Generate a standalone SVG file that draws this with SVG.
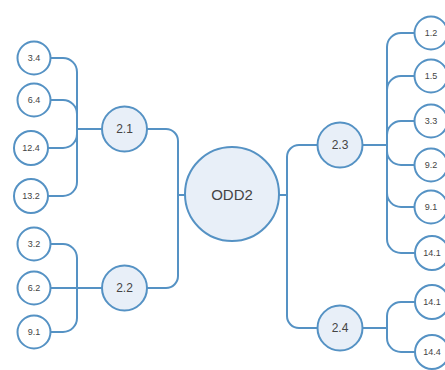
<svg xmlns="http://www.w3.org/2000/svg" width="445" height="370" viewBox="0 0 445 370">
<style>
.c{fill:none;stroke:#5592c4;stroke-width:2}
.leaf{fill:#ffffff;stroke:#5592c4;stroke-width:2}
.mid{fill:#e8eff8;stroke:#5592c4;stroke-width:2}
text{font-family:"Liberation Sans",Arial,sans-serif;fill:#444;text-anchor:middle;dominant-baseline:central}
.t1{font-size:9px}
.t2{font-size:12px}
.t3{font-size:15px}
</style>
<rect width="445" height="370" fill="#ffffff"/>
<g id="connectors">
<path class="c" d="M50 58 H63 A14 14 0 0 1 77 72 V129"/>
<path class="c" d="M50 100 H63 A14 14 0 0 1 77 114 V129"/>
<path class="c" d="M48 148 H63 A14 14 0 0 0 77 134 V129"/>
<path class="c" d="M48 196 H63 A14 14 0 0 0 77 182 V129"/>
<path class="c" d="M77 129 H102"/>
<path class="c" d="M50 244 H63 A14 14 0 0 1 77 258 V288"/>
<path class="c" d="M50 288 H102"/>
<path class="c" d="M50 332 H63 A14 14 0 0 0 77 318 V288"/>
<path class="c" d="M147 129 H166 A12 12 0 0 1 178 141 V276 A12 12 0 0 1 166 288 H147"/>
<path class="c" d="M178 195 H185"/>
<path class="c" d="M279 195 H287"/>
<path class="c" d="M318 145 H299 A12 12 0 0 0 287 157 V316 A12 12 0 0 0 299 328 H318"/>
<path class="c" d="M415 33 H401 A14 14 0 0 0 387 47 V145"/>
<path class="c" d="M415 76 H401 A14 14 0 0 0 387 90 V145"/>
<path class="c" d="M415 121 H401 A14 14 0 0 0 387 135 V145"/>
<path class="c" d="M415 165 H401 A14 14 0 0 1 387 151 V145"/>
<path class="c" d="M415 207 H401 A14 14 0 0 1 387 193 V145"/>
<path class="c" d="M415 253 H401 A14 14 0 0 1 387 239 V145"/>
<path class="c" d="M362 145 H387"/>
<path class="c" d="M415 302 H401 A14 14 0 0 0 387 316 V328"/>
<path class="c" d="M415 352 H401 A14 14 0 0 1 387 338 V328"/>
<path class="c" d="M362 328 H387"/>
</g>
<g id="odd2"><circle class="mid" cx="232" cy="194" r="47"/><text class="t3" x="232" y="194">ODD2</text></g>
<g id="n21"><circle class="mid" cx="124.5" cy="129" r="22.5"/><text class="t2" x="124.5" y="129">2.1</text></g>
<g id="n22"><circle class="mid" cx="124.5" cy="288" r="22.5"/><text class="t2" x="124.5" y="288">2.2</text></g>
<g id="n23"><circle class="mid" cx="340" cy="145" r="22.5"/><text class="t2" x="340" y="145">2.3</text></g>
<g id="n24"><circle class="mid" cx="340" cy="328" r="22.5"/><text class="t2" x="340" y="328">2.4</text></g>
<g id="l34"><circle class="leaf" cx="34" cy="58" r="16.5"/><text class="t1" x="34" y="58">3.4</text></g>
<g id="l64"><circle class="leaf" cx="34" cy="100" r="16.5"/><text class="t1" x="34" y="100">6.4</text></g>
<g id="l124"><circle class="leaf" cx="31" cy="148" r="17"/><text class="t1" x="31" y="148">12.4</text></g>
<g id="l132"><circle class="leaf" cx="31" cy="196" r="17"/><text class="t1" x="31" y="196">13.2</text></g>
<g id="l32"><circle class="leaf" cx="34" cy="244" r="16.5"/><text class="t1" x="34" y="244">3.2</text></g>
<g id="l62"><circle class="leaf" cx="34" cy="288" r="16.5"/><text class="t1" x="34" y="288">6.2</text></g>
<g id="l91a"><circle class="leaf" cx="34" cy="332" r="16.5"/><text class="t1" x="34" y="332">9.1</text></g>
<g id="l12"><circle class="leaf" cx="431" cy="33" r="16.5"/><text class="t1" x="431" y="33">1.2</text></g>
<g id="l15"><circle class="leaf" cx="431" cy="76" r="16.5"/><text class="t1" x="431" y="76">1.5</text></g>
<g id="l33"><circle class="leaf" cx="431" cy="121" r="16.5"/><text class="t1" x="431" y="121">3.3</text></g>
<g id="l92"><circle class="leaf" cx="431" cy="165" r="16.5"/><text class="t1" x="431" y="165">9.2</text></g>
<g id="l91b"><circle class="leaf" cx="431" cy="207" r="16.5"/><text class="t1" x="431" y="207">9.1</text></g>
<g id="l141a"><circle class="leaf" cx="432" cy="253" r="17"/><text class="t1" x="432" y="253">14.1</text></g>
<g id="l141b"><circle class="leaf" cx="432" cy="302" r="17"/><text class="t1" x="432" y="302">14.1</text></g>
<g id="l144"><circle class="leaf" cx="432" cy="352" r="17"/><text class="t1" x="432" y="352">14.4</text></g>
</svg>
